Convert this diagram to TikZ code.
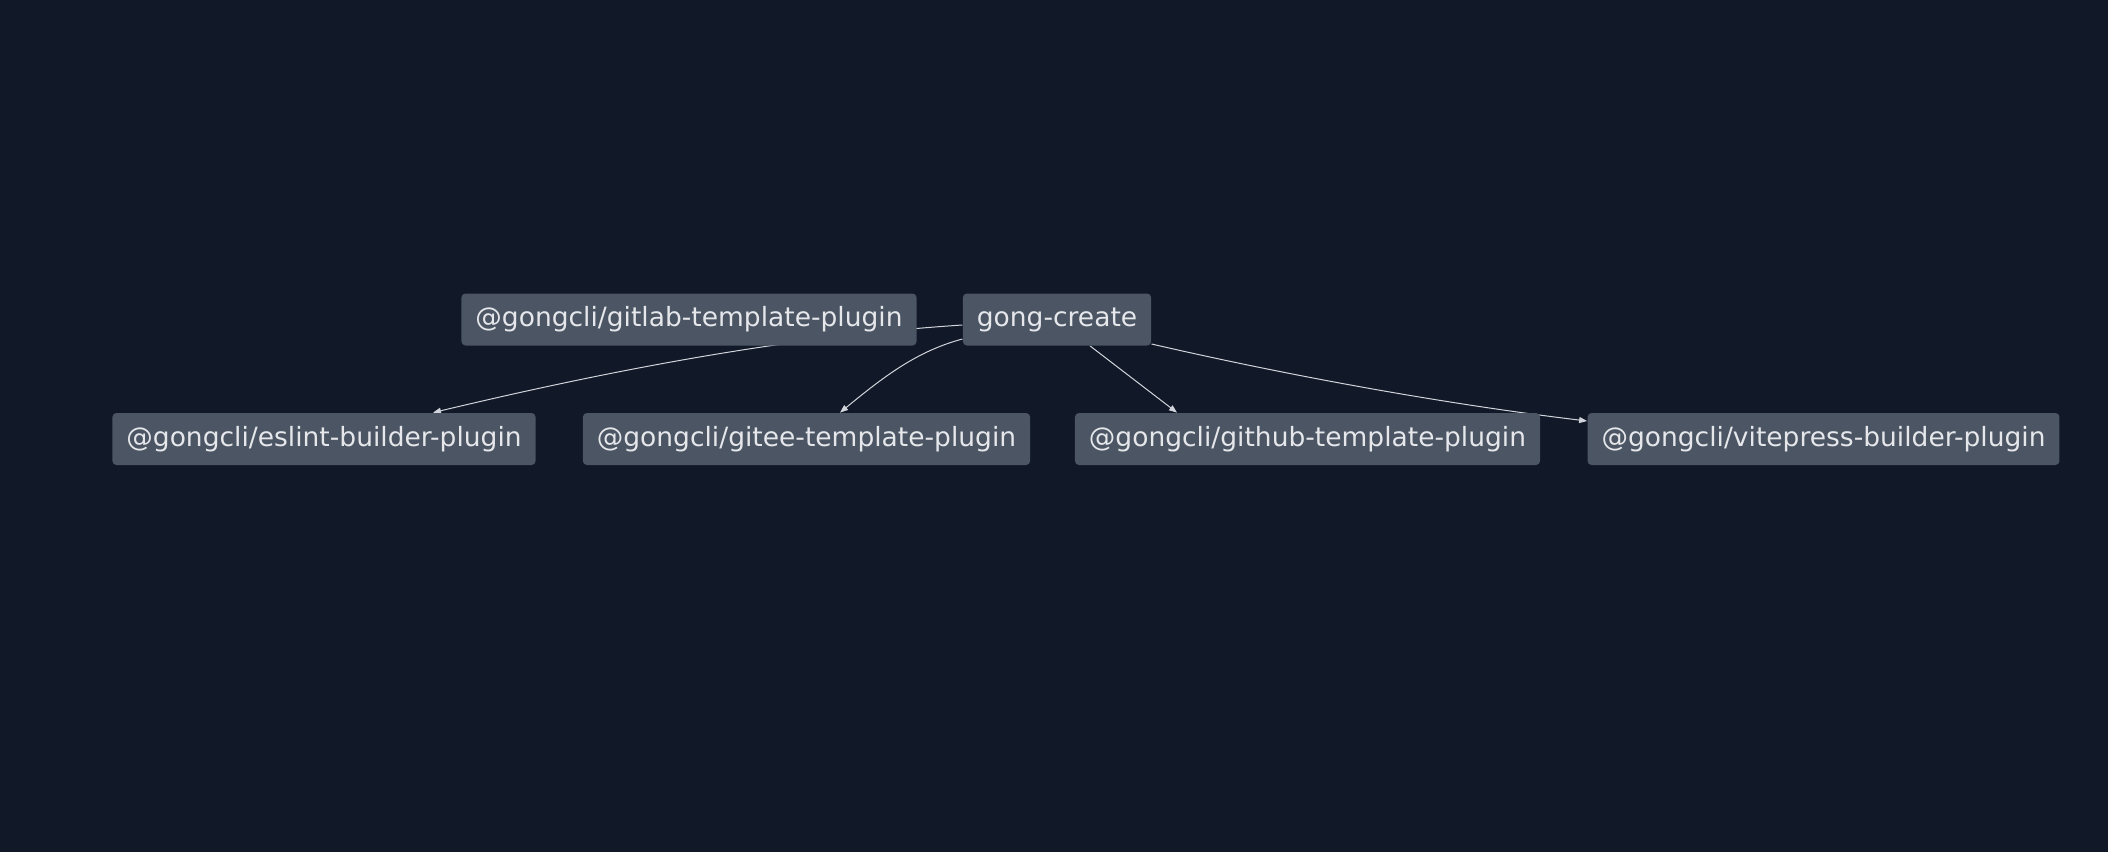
\documentclass[tikz,border=0pt]{standalone}
\usepackage{fontspec}
\setmainfont{DejaVu Sans}
\usetikzlibrary{arrows.meta}
\definecolor{bgcol}{RGB}{17,24,39}
\definecolor{boxcol}{RGB}{75,85,99}
\definecolor{txtcol}{RGB}{229,231,235}
\definecolor{linecol}{RGB}{209,213,219}
\pgfdeclarelayer{bg}
\pgfdeclarelayer{edges}
\pgfsetlayers{bg,edges,main}
\begin{document}
\begin{tikzpicture}[x=0.5pt, y=-0.5pt,
    pkg/.style={fill=boxcol, rounded corners=2pt, text=txtcol, inner xsep=7pt, inner ysep=0pt,
      minimum height=26pt, font=\fontsize{13.25}{16}\selectfont},
    dep/.style={draw=linecol, line width=0.5pt, -{Triangle[length=4pt,width=3pt]}}]
      \begin{pgfonlayer}{bg}
        \fill[bgcol] (0,0) rectangle (2108,852);
      \end{pgfonlayer}
      \useasboundingbox (0,0) rectangle (2108,852);

      \node[pkg] (gl) at (689,319.5) {@gongcli/gitlab-template-plugin};
      \node[pkg] (gc) at (1057,319.5) {gong-create};

      \node[pkg] (es) at (324,439) {@gongcli/eslint-builder-plugin};
      \node[pkg] (ge) at (806.5,439) {@gongcli/gitee-template-plugin};
      \node[pkg] (gh) at (1307.5,439) {@gongcli/github-template-plugin};
      \node[pkg] (vp) at (1823.5,439) {@gongcli/vitepress-builder-plugin};

      % edges go under the boxes
      \begin{pgfonlayer}{edges}
        \draw[dep] ([yshift=-2.75pt]gc.west) .. controls +(-176,11.5) and +(176,-42) .. ([xshift=54.5pt]es.north);
        \draw[dep] ([yshift=-9.75pt]gc.west) .. controls +(-45,12) and +(45,-37) .. ([xshift=16.75pt]ge.north);
        \draw[dep] ([xshift=16.5pt]gc.south) -- ([xshift=-65.25pt]gh.north);
        \draw[dep] ([yshift=-12.25pt]gc.east) .. controls +(130,30) and +(-150,-18) .. ([yshift=9pt]vp.west);
      \end{pgfonlayer}
    \end{tikzpicture}
\end{document}
